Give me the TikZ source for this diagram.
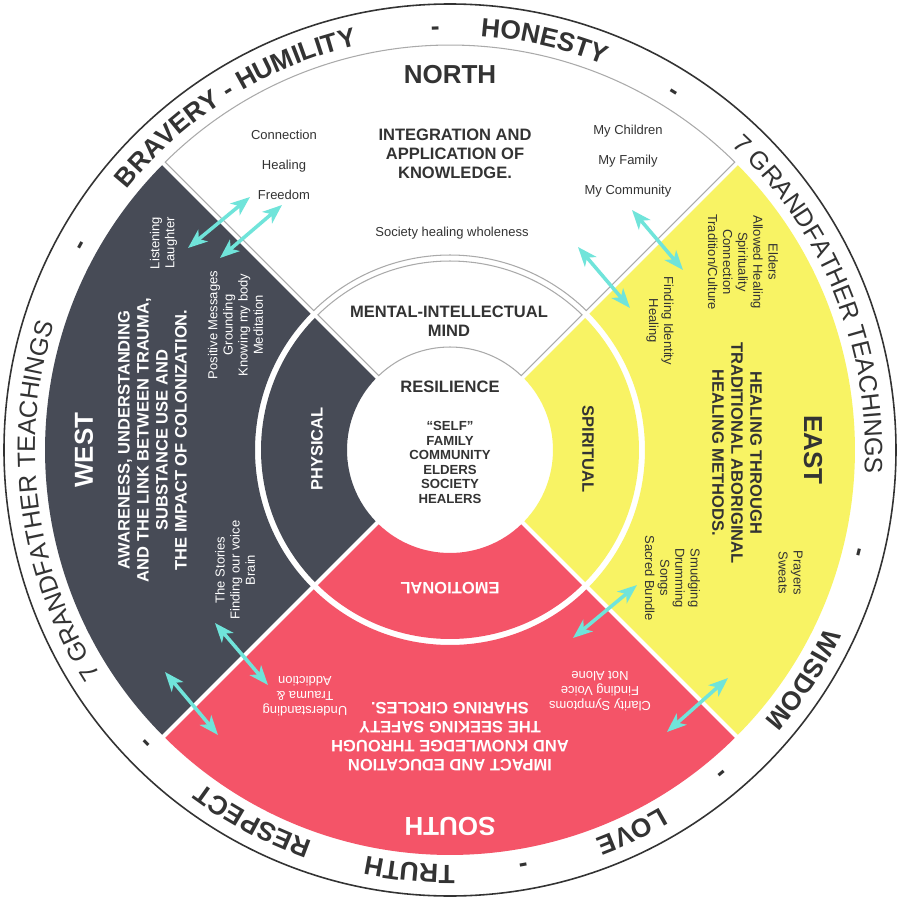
\documentclass[tikz,border=0pt]{standalone}
\usepackage{fontspec}
\setmainfont{Liberation Sans}
\usetikzlibrary{arrows.meta}
\usetikzlibrary{decorations.text}

\definecolor{westgray}{RGB}{71,75,86}
\definecolor{eastyellow}{RGB}{248,243,100}
\definecolor{southred}{RGB}{244,84,104}
\definecolor{arrowcyan}{RGB}{112,228,218}
\definecolor{inkgray}{RGB}{51,51,51}
\definecolor{rimgray}{RGB}{170,170,170}

\newcommand{\bandbold}{\fontsize{15}{18}\selectfont\bfseries}
\newcommand{\bandthin}{\fontsize{14.3}{17}\selectfont}

\tikzset{
  dirtitle/.style={font=\fontsize{14.8}{17}\selectfont\bfseries},
  headtxt/.style={font=\fontsize{9.4}{10.8}\selectfont\bfseries, align=center},
  centretxt/.style={font=\fontsize{7.5}{8.3}\selectfont\bfseries, align=center},
  smalltxt/.style={font=\fontsize{7.4}{8.6}\selectfont, align=center},
  loosetxt/.style={font=\fontsize{7.4}{17}\selectfont, align=center},
  twoway/.style={arrowcyan, line width=2pt,
    {Stealth[length=11pt,width=8.5pt,inset=3pt]}-{Stealth[length=11pt,width=8.5pt,inset=3pt]}}
}

\begin{document}
\begin{tikzpicture}[x=0.02cm,y=0.02cm]
\useasboundingbox (-450,-450) rectangle (450,450);
\fill[white] (-450,-450) rectangle (450,450);

% coloured quarters, outer and middle ring
\foreach \a/\c in {135/westgray,-135/southred,-45/eastyellow}
  \foreach \ro/\ri in {405/195,189/103}
    \fill[\c] ({\a+asin(2.2/\ro)}:\ro) arc[start angle={\a+asin(2.2/\ro)},end angle={\a+90-asin(2.2/\ro)},radius=\ro]
      -- ({\a+90-asin(2.2/\ri)}:\ri) arc[start angle={\a+90-asin(2.2/\ri)},end angle={\a+asin(2.2/\ri)},radius=\ri] -- cycle;
% north quarter is white with a grey rim
\foreach \ro/\ri in {405/195,189/103}
  \draw[rimgray, line width=0.6pt, fill=white] ({45+asin(2.2/\ro)}:\ro) arc[start angle={45+asin(2.2/\ro)},end angle={135-asin(2.2/\ro)},radius=\ro]
    -- ({135-asin(2.2/\ri)}:\ri) arc[start angle={135-asin(2.2/\ri)},end angle={45+asin(2.2/\ri)},radius=\ri] -- cycle;

\draw[inkgray, line width=0.9pt] (0,0) circle[radius=446];

% teachings round the rim
\path[decorate,decoration={text along path,text align=center,text color=inkgray,text={|\bandbold|BRAVERY - HUMILITY}}] (152:415) arc[start angle=152,end angle=92,radius=415];
\path[decorate,decoration={text along path,text align=center,text color=inkgray,text={|\bandbold|HONESTY}}] (97:415) arc[start angle=97,end angle=57,radius=415];
\path[decorate,decoration={text along path,text align=center,text color=inkgray,text={|\bandthin|7 GRANDFATHER TEACHINGS}}] (57:415) arc[start angle=57,end angle=-13,radius=415];
\path[decorate,decoration={text along path,text align=center,text color=inkgray,text={|\bandbold|WISDOM}}] (-13:415) arc[start angle=-13,end angle=-53,radius=415];
\path[decorate,decoration={text along path,text align=center,text color=inkgray,text={|\bandbold|LOVE}}] (-44.5:415) arc[start angle=-44.5,end angle=-84.5,radius=415];
\path[decorate,decoration={text along path,text align=center,text color=inkgray,text={|\bandbold|TRUTH}}] (-75.5:415) arc[start angle=-75.5,end angle=-115.5,radius=415];
\path[decorate,decoration={text along path,text align=center,text color=inkgray,text={|\bandbold|RESPECT}}] (-98:415) arc[start angle=-98,end angle=-138,radius=415];
\path[decorate,decoration={text along path,text align=center,text color=inkgray,text={|\bandthin|7 GRANDFATHER TEACHINGS}}] (-137.5:415) arc[start angle=-137.5,end angle=-207.5,radius=415];
\foreach \ang in {92,58,-14,-50,-80,-136,151}
  \path[decorate,decoration={text along path,text align=center,text color=inkgray,text={|\bandbold|-}}] ({\ang+6}:415) arc[start angle={\ang+6},end angle={\ang-6},radius=415];

% north
\node[dirtitle, text=inkgray] (north) at (0,375) {NORTH};
\node[headtxt, text=inkgray] (northaim) at (5,296) {INTEGRATION AND\\APPLICATION OF\\KNOWLEDGE.};
\node[loosetxt, text=inkgray] (northleft) at (-166,285) {Connection\\Healing\\Freedom};
\node[loosetxt, text=inkgray] (northright) at (178,289) {My Children\\My Family\\My Community};
\node[smalltxt, text=inkgray] (society) at (2,217) {Society healing wholeness};
\node[headtxt, text=inkgray] (mental) at (-1,129) {MENTAL-INTELLECTUAL\\MIND};
\node[headtxt, text=inkgray] (resilience) at (0,63) {RESILIENCE};
\node[centretxt, text=inkgray] (circles) at (0,-12.5) {“SELF”\\FAMILY\\COMMUNITY\\ELDERS\\SOCIETY\\HEALERS};

% west
\node[dirtitle, text=white, rotate=90] (west) at (-366,0) {WEST};
\node[headtxt, text=white, rotate=90] (westaim) at (-297.5,10) {AWARENESS, UNDERSTANDING\\AND THE LINK BETWEEN TRAUMA,\\SUBSTANCE USE AND\\THE IMPACT OF COLONIZATION.};
\node[smalltxt, text=white, rotate=90] (westtop) at (-286.5,207) {Listening\\Laughter};
\node[smalltxt, text=white, rotate=90] (westmid) at (-214.5,125) {Positive Messages\\Grounding\\Knowing my body\\Meditation};
\node[smalltxt, text=white, rotate=90] (westlow) at (-215,-120) {The Stories\\Finding our voice\\Brain};
\node[headtxt, text=white, rotate=90] (physical) at (-133,1) {PHYSICAL};

% east
\node[dirtitle, text=inkgray, rotate=-90] (east) at (363,0) {EAST};
\node[headtxt, text=inkgray, rotate=-90] (eastaim) at (287,-3) {HEALING THROUGH\\TRADITIONAL ABORIGINAL\\HEALING METHODS.};
\node[smalltxt, text=inkgray, rotate=-90] (easttop) at (293,188) {Elders\\Allowed Healing\\Spirituality\\Connection\\Tradition/Culture};
\node[smalltxt, text=inkgray, rotate=-90] (eastmid) at (210,129) {Finding Identity\\Healing};
\node[smalltxt, text=inkgray, rotate=-90] (eastlow) at (340.5,-123) {Prayers\\Sweats};
\node[smalltxt, text=inkgray, rotate=-90] (eastsong) at (222.5,-128) {Smudging\\Drumming\\Songs\\Sacred Bundle};
\node[headtxt, text=inkgray, rotate=-90] (spiritual) at (138,1) {SPIRITUAL};

% south
\node[dirtitle, text=white, rotate=180] (south) at (0,-376) {SOUTH};
\node[headtxt, text=white, rotate=180] (southaim) at (0,-286.5) {IMPACT AND EDUCATION\\AND KNOWLEDGE THROUGH\\THE SEEKING SAFETY\\SHARING CIRCLES.};
\node[headtxt, text=white, rotate=180] (emotional) at (0,-138) {EMOTIONAL};
\node[smalltxt, text=white, rotate=180] (southleft) at (-145,-246) {Understanding\\Trauma \&\\Addiction};
\node[smalltxt, text=white, rotate=180] (southright) at (150,-241) {Clarity Symptoms\\Finding Voice\\Not Alone};

% crossing arrows
\foreach \p/\q in {{-262,202}/{-200,253},{-230,192}/{-168,245},{182,240}/{233,180},{128,203}/{180,142},
  {-235,-173}/{-182,-235},{-285,-222}/{-232,-285},{187,-135}/{123,-188},{278,-228}/{217,-282}}
  \draw[twoway] (\p) -- (\q);
\end{tikzpicture}
\end{document}
